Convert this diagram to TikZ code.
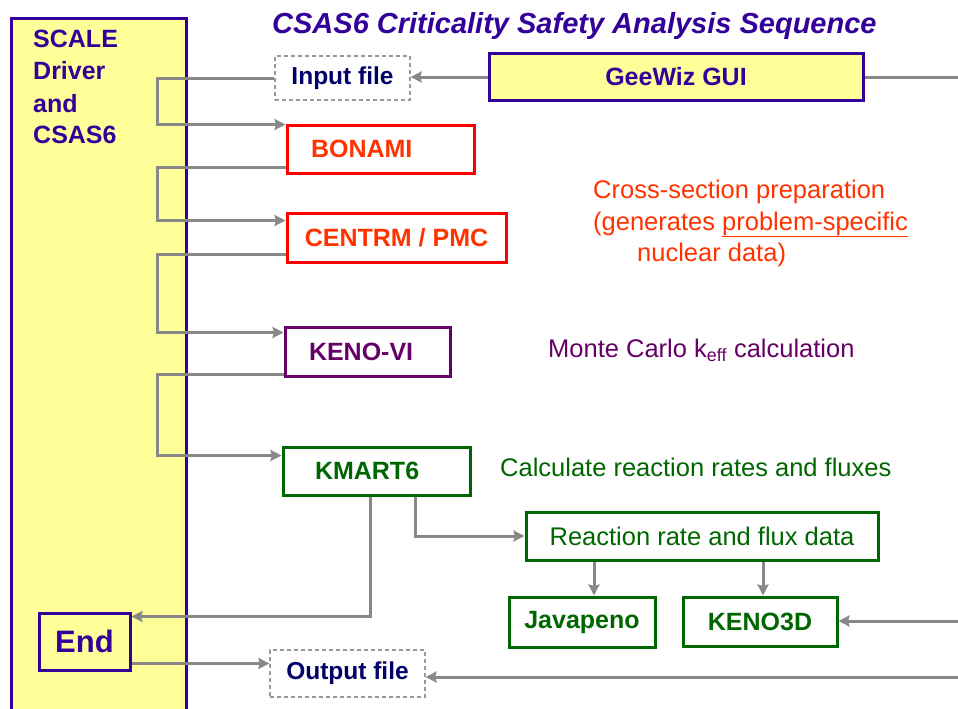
\documentclass[tikz,border=0pt]{standalone}
\usepackage{fontspec}
\setmainfont{Liberation Sans}
\usetikzlibrary{arrows.meta}
\definecolor{indigo}{HTML}{330099}
\definecolor{navy}{HTML}{000066}
\definecolor{bred}{HTML}{FF0000}
\definecolor{tred}{HTML}{FF3300}
\definecolor{purp}{HTML}{660066}
\definecolor{grn}{HTML}{006600}
\definecolor{lyel}{HTML}{FFFF99}
\definecolor{arrgray}{HTML}{888888}
\definecolor{dgray}{HTML}{999999}
\begin{document}
\begin{tikzpicture}[x=1pt,y=-1pt,
  box/.style={rectangle, draw, line width=3pt, inner sep=0pt,
    font=\bfseries\fontsize{25}{30}\selectfont},
  filebox/.style={rectangle, draw=dgray, dashed, dash pattern=on 4pt off 3pt,
    line width=1.3pt, inner sep=0pt, text=navy,
    font=\bfseries\fontsize{24.5}{30}\selectfont},
  yelbox/.style={box, draw=indigo, fill=lyel, text=indigo},
  redbox/.style={box, draw=bred, text=tred},
  purbox/.style={box, draw=purp, text=purp},
  grnbox/.style={box, draw=grn, text=grn},
  arr/.style={draw=arrgray, line width=3pt, -{Stealth[length=11pt,width=11pt,inset=1.5pt]}},
  ln/.style={draw=arrgray, line width=3pt},
  drvtext/.style={anchor=base west, inner sep=0pt, text=indigo,
    font=\bfseries\fontsize{25}{30}\selectfont},
  note/.style={anchor=base west, inner sep=0pt,
    font=\fontsize{25.5}{30}\selectfont}
]
\useasboundingbox[fill=white] (0,0) rectangle (958,709);

% driver column
\node[yelbox, minimum width=175pt, minimum height=700pt, anchor=north west] (drv) at (10,17) {};
\node[drvtext] (t1) at (33,48) {SCALE};
\node[drvtext] (t2) at (33,80) {Driver};
\node[drvtext] (t3) at (33,112) {and};
\node[drvtext] (t4) at (33,143) {CSAS6};

% title
\node[anchor=base west, inner sep=0pt, text=indigo,
  font=\bfseries\itshape\fontsize{29}{34}\selectfont] (title) at (272,34)
  {CSAS6 Criticality Safety Analysis Sequence};

% boxes
\node[filebox, minimum width=135pt, minimum height=44pt] (input) at (342.5,78) {Input file};
\node[yelbox, minimum width=374pt, minimum height=47pt] (gee) at (676,77) {GeeWiz GUI};
\node[redbox, minimum height=48pt, inner xsep=24pt, text width=139pt, align=left] (bonami) at (380.5,149) {BONAMI};
\node[redbox, minimum width=219pt, minimum height=49pt] (centrm) at (396.5,237.5) {CENTRM / PMC};
\node[purbox, minimum height=49pt, inner xsep=24pt, text width=117pt, align=left] (keno) at (367.5,351.5) {KENO-VI};
\node[grnbox, minimum height=48pt, inner xsep=32pt, text width=123pt, align=left] (kmart) at (376.5,471) {KMART6};
\node[grnbox, minimum width=352pt, minimum height=48pt,
  font=\fontsize{25.5}{30}\selectfont] (react) at (702,536) {Reaction rate and flux data};
\node[grnbox, minimum width=146pt, minimum height=50pt] (java) at (582,622) {Javapeno};
\node[grnbox, minimum width=154pt, minimum height=49pt] (keno3d) at (760,621.5) {KENO3D};
\node[yelbox, minimum width=91pt, minimum height=57pt,
  font=\bfseries\fontsize{31}{36}\selectfont] (end) at (84.5,641.5) {End};
\node[filebox, minimum width=155pt, minimum height=47pt] (output) at (347.5,673.5) {Output file};

% notes
\node[note, text=tred] (n1) at (593,198) {Cross-section preparation};
\node[note, text=tred] (n2) at (593,230) {(generates \underline{problem-specific}};
\node[note, text=tred] (n3) at (637,261) {nuclear data)};
\node[note, text=purp] (n4) at (548,357) {Monte Carlo k\textsubscript{eff} calculation};
\node[note, text=grn] (n5) at (500,476) {Calculate reaction rates and fluxes};

% helper coordinates
\coordinate (col) at (157,0);
\coordinate (r1) at (958,77);
\coordinate (r2) at (958,621);
\coordinate (r3) at (958,677);

% connectors
\draw[ln] (gee.east) -- (gee.east -| r1);
\draw[arr] (gee.west) -- (gee.west -| input.east);
\draw[arr] (input.west) -- (input.west -| col) |- ([yshift=-1pt]bonami.north west);
\draw[arr] ([yshift=7pt]bonami.south west) -- ([yshift=7pt]bonami.south west -| col)
  |- ([yshift=-9pt]centrm.north west);
\draw[arr] ([yshift=9pt]centrm.south west) -- ([yshift=9pt]centrm.south west -| col)
  |- ([yshift=-7pt]keno.north west);
\draw[arr] ([yshift=3pt]keno.south west) -- ([yshift=3pt]keno.south west -| col)
  |- ([yshift=-10pt]kmart.north west);
\draw[arr] ([xshift=-6.5pt]kmart.south) |- ([yshift=-5pt]end.north east);
\draw[arr] ([xshift=38.5pt]kmart.south) |- (react.west);
\draw[arr] ([xshift=-108pt]react.south) -- ([xshift=-108pt]react.south |- java.north);
\draw[arr] ([xshift=61pt]react.south) -- ([xshift=61pt]react.south |- keno3d.north);
\draw[arr] (r2) -- (r2 -| keno3d.east);
\draw[arr] (r3) -- (r3 -| output.east);
\draw[arr] ([yshift=8pt]end.south east) -- ([yshift=8pt]end.south east -| output.west);
\end{tikzpicture}
\end{document}
